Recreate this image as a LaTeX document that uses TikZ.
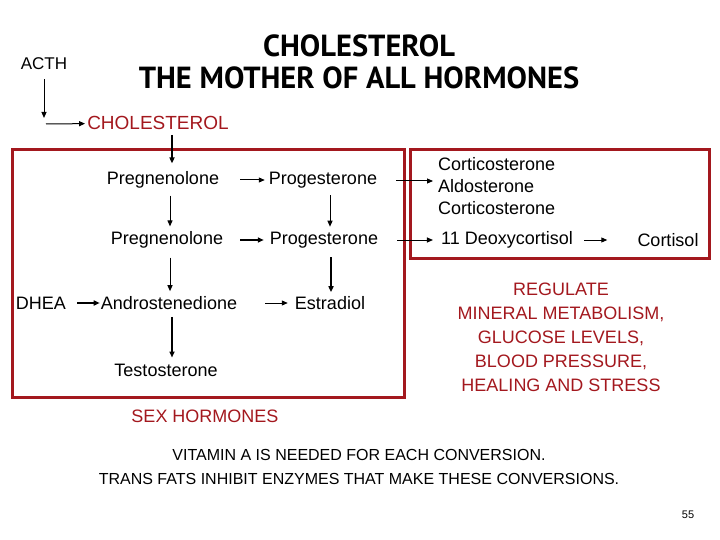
\documentclass[tikz,border=0pt]{standalone}
\usepackage{fontspec}
\setmainfont{Liberation Sans}
\newfontfamily\titlefont{PT Sans}
\usetikzlibrary{arrows.meta}
\definecolor{hormred}{RGB}{163,24,30}
\tikzset{
	txt/.style={inner sep=0pt, font=\fontsize{18}{22}\selectfont},
	redtxt/.style={txt, text=hormred},
	arr/.style={-{Triangle[length=6pt,width=5pt]}, line width=1pt},
	thickarr/.style={arr, line width=2pt},
	redbox/.style={draw=hormred, line width=3pt}
}

\begin{document}
\begin{tikzpicture}[x=1pt, y=-1pt]
			%%%%% START %%%%%
			\useasboundingbox (0, 0) rectangle (720, 540);
			
			\node[font=\titlefont\bfseries\fontsize{30.5}{32}\selectfont, align=center] (title) at (359, 62) {CHOLESTEROL\\THE MOTHER OF ALL HORMONES};
			
			\node[txt, font=\fontsize{17}{20}\selectfont] (acth) at (44, 64) {ACTH};
			\node[redtxt, font=\fontsize{19}{22}\selectfont] (chol) at (158, 123) {CHOLESTEROL};
			\coordinate (corner) at (44, 124);
			\draw[arr] (acth) -- (corner) [shorten <=9pt, shorten >=6pt];
			\draw[arr] (corner) -- (chol) [shorten <=2pt, shorten >=2pt];
			
			\draw[redbox] (12, 150) rectangle (404, 397);
			\draw[redbox] (410, 150) rectangle (709, 258);
			
			% first row
			\node[txt] (preg1) at (163, 180) {Pregnenolone};
			\node[txt] (prog1) at (323, 180) {Progesterone};
			\node[txt, anchor=west, align=left] (cort) at (438, 186) {Corticosterone\\Aldosterone\\Corticosterone};
			
			% second row
			\node[txt] (preg2) at (167, 240) {Pregnenolone};
			\node[txt] (prog2) at (324, 240) {Progesterone};
			\node[txt] (deoxy) at (507, 240) {11 Deoxycortisol};
			\node[txt] (cortisol) at (668, 240) {Cortisol};
			
			% third row
			\node[txt] (dhea) at (41, 303) {DHEA};
			\node[txt] (andro) at (169, 303) {Androstenedione};
			\node[txt] (estra) at (330, 303) {Estradiol};
			\node[txt] (testo) at (166, 370) {Testosterone};
			
			\node[redtxt] (sex) at (205, 416) {SEX HORMONES};
			\node[redtxt, align=center, font=\fontsize{18}{24}\selectfont] (regulate) at (561, 337) {REGULATE\\MINERAL METABOLISM,\\GLUCOSE LEVELS,\\BLOOD PRESSURE,\\HEALING AND STRESS};
			
			\node[txt, align=center, font=\fontsize{16}{24}\selectfont] (notes) at (359, 467) {VITAMIN A IS NEEDED FOR EACH CONVERSION.\\TRANS FATS INHIBIT ENZYMES THAT MAKE THESE CONVERSIONS.};
			\node[font=\fontsize{11}{12}\selectfont] (page) at (688, 515) {55};
			
			% downward arrows
			\draw[thickarr, shorten <=5pt, shorten >=8pt] ([xshift=14pt]chol.south) -- ([xshift=14pt]chol.south |- preg1.north);
			\draw[arr, shorten <=7pt, shorten >=5pt] ([xshift=7pt]preg1.south) -- ([xshift=7pt]preg1.south |- preg2.north);
			\draw[arr, shorten <=7pt, shorten >=5pt] ([xshift=7pt]prog1.south) -- ([xshift=7pt]prog1.south |- prog2.north);
			\draw[arr, shorten <=9pt, shorten >=5pt] ([xshift=3pt]preg2.south) -- ([xshift=3pt]preg2.south |- andro.north);
			\draw[thickarr, shorten <=9pt, shorten >=4pt] ([xshift=7pt]prog2.south) -- ([xshift=7pt]prog2.south |- estra.north);
			\draw[thickarr, shorten <=7pt, shorten >=6pt] ([xshift=3pt]andro.south) -- ([xshift=3pt]andro.south |- testo.north);
			
			% sideways arrows
			\draw[arr, shorten <=21pt, shorten >=4pt] (preg1) -- (prog1);
			\draw[thickarr, shorten <=17pt, shorten >=6pt] (preg2) -- (prog2);
			\draw[arr, shorten <=19pt, shorten >=5pt] ([yshift=-1pt]prog1.east) -- ([yshift=-1pt]prog1.east -| cort.west);
			\draw[arr, shorten <=19pt, shorten >=8pt] (prog2) -- (deoxy);
			\draw[arr, shorten <=11pt, shorten >=30pt] (deoxy) -- (cortisol);
			\draw[thickarr, shorten <=11pt, shorten >=1pt] (dhea) -- (andro);
			\draw[arr, shorten <=28pt, shorten >=7pt] (andro) -- (estra);
			%%%%% END %%%%%
\end{tikzpicture}
\end{document}
